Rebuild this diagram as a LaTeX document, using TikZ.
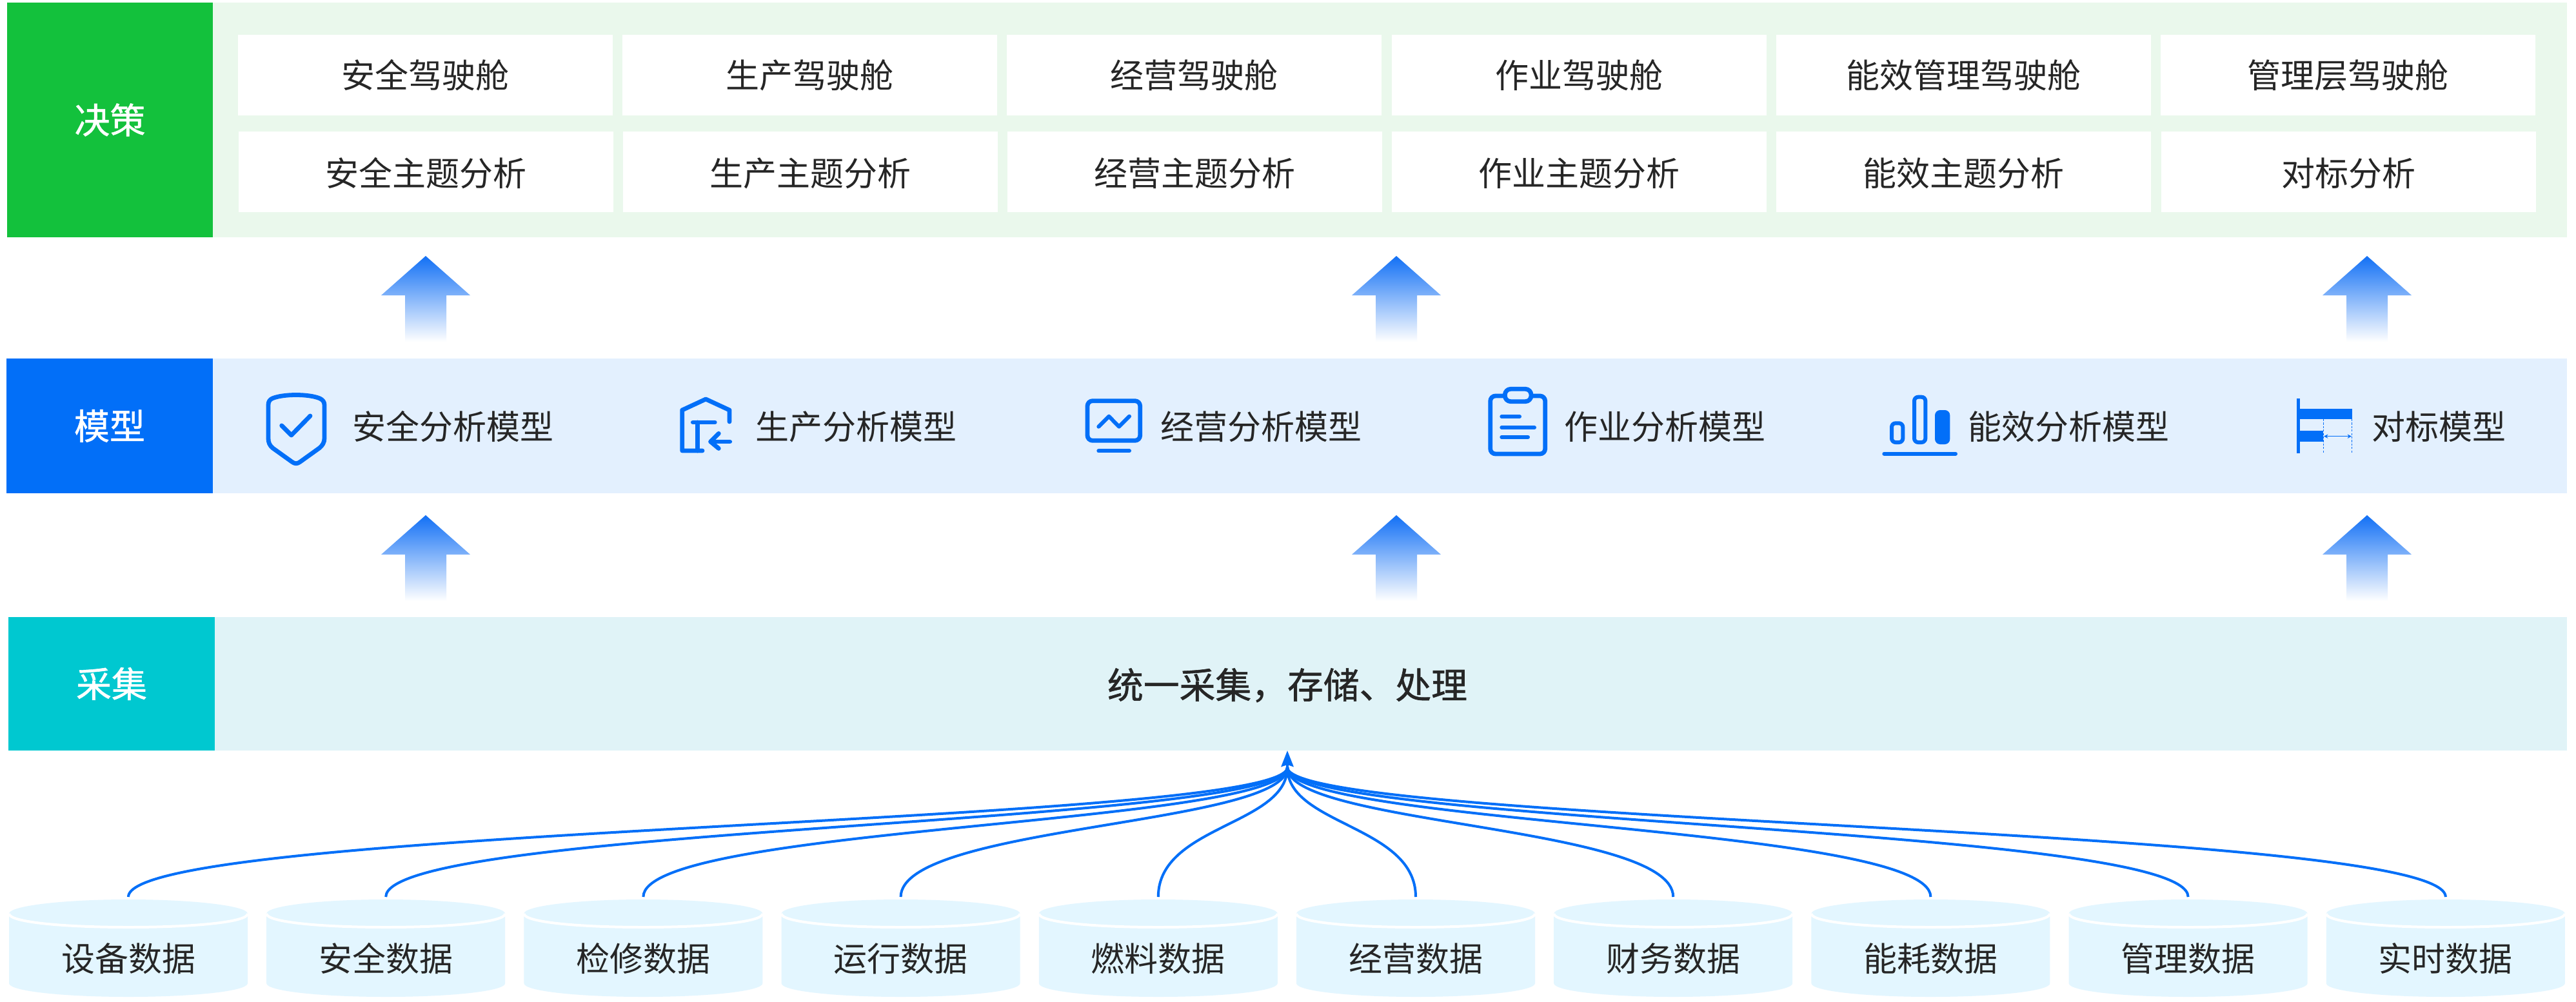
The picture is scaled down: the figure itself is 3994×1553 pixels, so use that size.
\documentclass[tikz,border=0pt]{standalone}
\usepackage{fontspec}
\setmainfont{Noto Sans CJK SC}
\newfontfamily\medfont[FakeBold=1]{Noto Sans CJK SC}
\usetikzlibrary{arrows.meta}
\definecolor{gDark}{HTML}{13C13C}
\definecolor{gLight}{HTML}{EAF8EC}
\definecolor{bDark}{HTML}{026FF8}
\definecolor{bLight}{HTML}{E3F0FE}
\definecolor{tDark}{HTML}{00C8D0}
\definecolor{tLight}{HTML}{E0F3F7}
\definecolor{cylFill}{HTML}{E3F6FF}
\definecolor{inkC}{HTML}{262626}
\definecolor{arrowTop}{HTML}{1270F5}
\tikzset{
  x=0.5pt,y=-0.5pt,
  base/.style={inner sep=0pt,outer sep=0pt,anchor=center,text=inkC},
  normal/.style={base,font=\fontsize{26pt}{27pt}\selectfont,text height=22.9pt,text depth=3.1pt},
  sidebox/.style={base,text=white,font=\medfont\fontsize{27.5pt}{28pt}\selectfont,text height=24.2pt,text depth=3.3pt},
  band/.style={base},
  cell/.style={normal,fill=white,minimum width=290.5pt,minimum height=62.5pt},
  cylbox/.style={base,minimum width=185.5pt,minimum height=77.5pt},
  conn/.style={draw=bDark,line width=2pt,line cap=butt},
  icon/.style={draw=bDark,line width=3.4pt,line cap=round,line join=round,fill=none},
  iconthin/.style={icon,line width=3pt},
  upshade/.style={top color=arrowTop,bottom color=white,draw=none},
}
\newcommand{\uparr}[2]{%
  \shade[upshade] (#1,#2) -- (#1+69,#2+61) -- (#1+32,#2+61) -- (#1+32,#2+133) -- (#1-32,#2+133) -- (#1-32,#2+61) -- (#1-69,#2+61) -- cycle;}
\begin{document}
\begin{tikzpicture}
\useasboundingbox (0,0) rectangle (3994,1553);
\fill[white] (0,0) rectangle (3994,1553);

% layer 1
\node[band,fill=gLight,minimum width=1825pt,minimum height=182pt] (bandA) at (2155,186) {};
\node[sidebox,fill=gDark,minimum width=159.5pt,minimum height=182pt] (sideA) at (170.5,186) {决策};
\foreach \t [count=\i from 0] in {安全驾驶舱,生产驾驶舱,经营驾驶舱,作业驾驶舱,能效管理驾驶舱,管理层驾驶舱}{
  \pgfmathsetmacro{\cx}{659.5+596.2*\i}
  \node[cell] (rowA\i) at (\cx,116.5) {\t};
}
\foreach \t [count=\i from 0] in {安全主题分析,生产主题分析,经营主题分析,作业主题分析,能效主题分析,对标分析}{
  \pgfmathsetmacro{\cx}{660+596.2*\i}
  \node[cell] (rowB\i) at (\cx,266.5) {\raisebox{-1pt}{\t}};
}

% up arrows
\foreach \ax in {660,2165,3670}{
  \uparr{\ax}{397}
  \uparr{\ax}{799}
}

% layer 2
\node[band,fill=bLight,minimum width=1825pt,minimum height=104.5pt] (bandB) at (2155,660.5) {};
\node[sidebox,fill=bDark,minimum width=160pt,minimum height=104.5pt] (sideB) at (170,660.5) {模型};
\foreach \t/\px in {安全分析模型/702,生产分析模型/1327,经营分析模型/1955,作业分析模型/2581,能效分析模型/3207,对标模型/3781}{
  \node[normal] at (\px,662) {\t};
}

% shield icon
\draw[icon] (459,612.5) .. controls (444,612.5) and (430,614.5) .. (422,618) .. controls (418,620) and (416,623) .. (416,628) -- (416,680) .. controls (416,686) and (418,691) .. (423,695) -- (453,716.5) .. controls (457,719.5) and (461,719.5) .. (465,716.5) -- (495,695) .. controls (500,691) and (503,686) .. (503,680) -- (503,628) .. controls (503,623) and (500,620) .. (496,618) .. controls (488,614.5) and (474,612.5) .. (459,612.5) -- cycle;
\draw[icon] (436.7,660) -- (451.7,675) -- (481,645);

% house icon
\draw[icon] (1131,654) -- (1131,636) -- (1094.3,619) -- (1057.7,636) -- (1057.7,699) -- (1089,699);
\draw[icon] (1074.3,655) -- (1108.3,655);
\draw[icon] (1081.7,655) -- (1081.7,699);
\draw[icon] (1101.7,685) -- (1131.7,685);
\draw[icon] (1114.3,672.3) -- (1101.7,685) -- (1114.3,695.5);

% monitor icon
\draw[icon,rounded corners=4pt] (1686,621.7) rectangle (1767.7,683.3);
\draw[iconthin] (1703.3,661.7) -- (1719.3,645.7) -- (1735,661.7) -- (1751,645.7);
\draw[iconthin] (1703.3,699.3) -- (1751,699.3);

% clipboard icon
\draw[icon,rounded corners=4pt] (2310.7,614) rectangle (2395.7,704);
\draw[icon,fill=bLight,rounded corners=4.5pt] (2333.3,603.3) rectangle (2374,622.7);
\draw[iconthin] (2328.3,646) -- (2356,646);
\draw[iconthin] (2328.3,663) -- (2379,663);
\draw[iconthin] (2328.3,678) -- (2369,678);

% bars icon
\draw[iconthin,rounded corners=3pt] (2933,656.3) rectangle (2950.3,686);
\draw[iconthin,rounded corners=3pt] (2968,615.7) rectangle (2985.3,686);
\fill[bDark,rounded corners=4pt] (3000,636) rectangle (3023.3,689);
\draw[iconthin] (2921.3,703.7) -- (3032,703.7);

% benchmark icon
\fill[bDark] (3561,618.3) rectangle (3566,703.3);
\fill[bDark] (3566,634) rectangle (3646.7,650);
\fill[bDark] (3566,668.3) rectangle (3601.7,685);
\draw[draw=bDark,line width=0.8pt,dash pattern=on 1.6pt off 1.1pt] (3602.3,650) -- (3602.3,701.7);
\draw[draw=bDark,line width=0.8pt,dash pattern=on 1.6pt off 1.1pt] (3646.3,650) -- (3646.3,701.7);
\draw[draw=bDark,line width=0.7pt,{Stealth[length=3.2pt,width=3.2pt]}-{Stealth[length=3.2pt,width=3.2pt]}] (3603,676.7) -- (3646,676.7);

% layer 3
\node[band,fill=tLight,minimum width=1823.5pt,minimum height=103.5pt] (bandC) at (2156.5,1060.5) {};
\node[sidebox,fill=tDark,minimum width=160pt,minimum height=103.5pt] (sideC) at (173,1060.5) {采集};
\node[base,font=\medfont\fontsize{27.9pt}{28pt}\selectfont,text height=24.6pt,text depth=3.3pt] (collect) at (1996,1062) {统一采集，存储、处理};

% hub
\coordinate (hub) at (1996,1190);
\coordinate (hubctl) at (1996,1280);

% cylinders and connectors
\foreach \t [count=\i from 0] in {设备数据,安全数据,检修数据,运行数据,燃料数据,经营数据,财务数据,能耗数据,管理数据,实时数据}{
  \pgfmathsetmacro{\cx}{199+399.2*\i}
  \begin{scope}[shift={(\cx,0)}]
    \fill[cylFill] (-185,1417) .. controls (-185,1405) and (-102,1395) .. (0,1395) .. controls (102,1395) and (185,1405) .. (185,1417) -- (185,1525) .. controls (185,1537) and (102,1546) .. (0,1546) .. controls (-102,1546) and (-185,1537) .. (-185,1525) -- cycle;
    \draw[white,line width=2pt] (-185,1417) .. controls (-185,1430) and (-102,1438) .. (0,1438) .. controls (102,1438) and (185,1430) .. (185,1417);
  \end{scope}
  \node[cylbox] (d\i) at (\cx,1468.5) {};
  \node[normal] (l\i) at (\cx,1487) {\t};
  \draw[conn] (d\i.north) .. controls (d\i.north |- hubctl) and (hubctl) .. (hub);
}
\draw[conn,-{Stealth[length=12.5pt,width=9.5pt,inset=1.5pt]}] (hub) -- (bandC.south -| hub);
\end{tikzpicture}
\end{document}
